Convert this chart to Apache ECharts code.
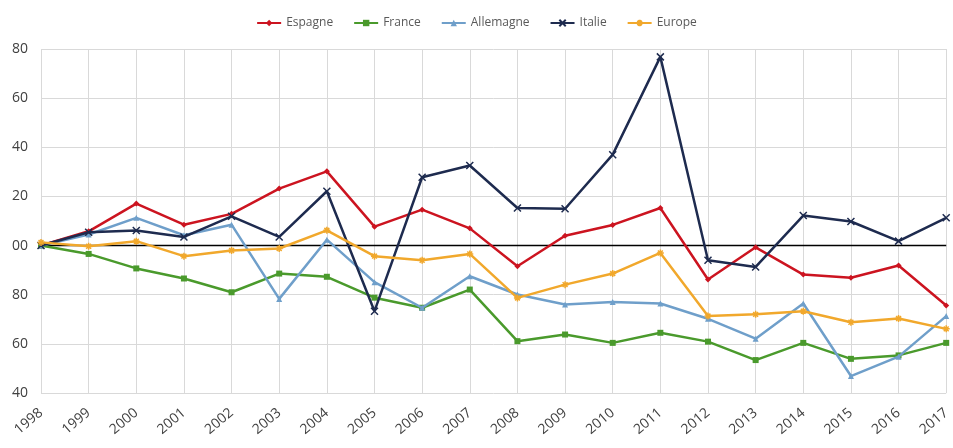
<!DOCTYPE html>
<html>
<head>
<meta charset="utf-8">
<script src="https://cdn.jsdelivr.net/npm/echarts@6/dist/echarts.min.js"></script>
<style>html,body{margin:0;padding:0;background:#fff}#c{width:953px;height:448px}</style>
</head>
<body>
<div id="c"></div>
<script>
const years = ['1998','1999','2000','2001','2002','2003','2004','2005','2006','2007','2008','2009','2010','2011','2012','2013','2014','2015','2016','2017'];
const espagne = [100,105.8,117.1,108.5,112.9,123.2,130.2,107.7,114.6,107,91.6,104,108.4,115.3,86.2,99.3,88.2,86.9,91.9,75.6];
const france = [100,96.6,90.7,86.6,81,88.6,87.3,78.8,74.7,82.1,61.1,63.8,60.4,64.5,60.9,53.4,60.4,53.9,55.3,60.4];
const allemagne = [100,104.5,111.3,104.2,108.5,78.3,102.4,85.1,74.7,87.5,80.1,76,77,76.4,70.2,62.1,76.4,46.9,54.8,71.3];
const italie = [100,105.4,106.1,103.5,111.9,103.5,122.1,73.3,127.8,132.6,115.3,115,137,176.8,94,91.3,112.2,109.8,101.8,111.3];
const europe = [101.3,99.7,101.8,95.7,98,98.8,106.2,95.7,94,96.6,78.7,84.1,88.6,97,71.3,72,73.3,68.8,70.3,66.1];
const seriesNames = ['Espagne','France','Allemagne','Italie','Europe'];
const yMin = 40, yMax = 180, yStep = 20;
const baseline = 100;

const colors = ['#cc1420','#4a9a2c','#6f9fca','#1e2b4f','#f1a82c'];
const symbols = ['diamond','rect','triangle','path://M-1,-1L1,1M1,-1L-1,1','path://M0,-1L0,1M-1,0L1,0M-0.7,-0.7L0.7,0.7M0.7,-0.7L-0.7,0.7'];
const dataSets = [espagne, france, allemagne, italie, europe];

const chart = echarts.init(document.getElementById('c'));
const font = "'Open Sans', 'Liberation Sans', sans-serif";
chart.setOption({
  animation: false,
  textStyle: {fontFamily: font},
  color: colors,
  legend: {
    top: 12, left: 'center', itemGap: 20, itemWidth: 24, itemHeight: 8,
    textStyle: {color: '#595959', fontSize: 12, fontFamily: font},
    data: seriesNames
  },
  grid: {left: 41, right: 2, top: 49, bottom: 55, containLabel: false},
  xAxis: {
    type: 'category', data: years, boundaryGap: false,
    axisLine: {show: false}, axisTick: {show: false},
    splitLine: {show: true, lineStyle: {color: '#d9d9d9', width: 1}},
    axisLabel: {rotate: 40, color: '#404040', fontSize: 14, margin: 18, fontFamily: font}
  },
  yAxis: {
    type: 'value', min: yMin, max: yMax, interval: yStep,
    axisLine: {show: false}, axisTick: {show: false},
    splitLine: {lineStyle: {color: '#d9d9d9', width: 1}},
    axisLabel: {color: '#404040', fontSize: 14, margin: 13, fontFamily: font,
      formatter: v => String(v % 100).padStart(2, '0')}
  },
  series: seriesNames.map((n, i) => ({
    name: n, type: 'line', data: dataSets[i],
    symbol: symbols[i], symbolSize: i >= 3 ? 7 : 6, showAllSymbol: true,
    lineStyle: {width: 2.5, color: colors[i]},
    itemStyle: {color: colors[i], borderColor: colors[i], borderWidth: i >= 3 ? 1.5 : 0},
    z: 2 + i,
    markLine: i === 0 ? {
      silent: true, symbol: 'none', label: {show: false},
      lineStyle: {color: '#000', width: 1.3, type: 'solid'},
      data: [{yAxis: baseline}], z: 1
    } : undefined
  }))
});
</script>
</body>
</html>
